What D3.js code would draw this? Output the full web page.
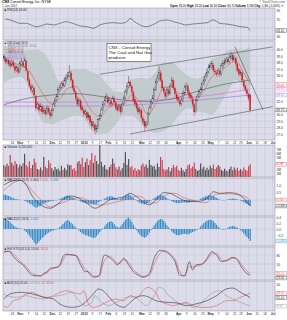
<!DOCTYPE html>
<html><head><meta charset="utf-8">
<script src="https://cdn.jsdelivr.net/npm/d3@7"></script>
<style>body{margin:0;background:#fff}svg{display:block}text{font-family:"Liberation Sans",Arial,sans-serif}</style>
</head><body><svg id="c" width="287" height="320"></svg>
<script>
// ---------- DATA ----------
const tickIdx=[5,10,15,20,25,30,35,40,45,50,55,60,65,70,75,80,86,91,96,101,109,114,119,124,129,134,139,144,148,153,158,163,168];
const tickLab=["24","Nov","7","14","21","Dec","12","19","27","2012","9","17","Feb","6","13","21","Mar","12","19","26","Apr","9","16","23","May","7","14","21","29","Jun","11","18","Jul"];
const open=[38.9,38.6,38.0,38.3,37.9,37.6,38.0,37.4,36.9,37.1,36.6,37.7,38.0,37.4,38.2,36.6,35.2,34.4,33.7,34.0,32.8,31.1,31.5,30.8,31.2,30.5,30.6,30.2,30.9,30.3,29.9,30.8,31.5,32.3,32.9,33.7,34.2,34.8,34.5,35.2,35.7,36.0,36.4,35.2,34.0,33.4,32.4,31.7,32.1,31.1,30.6,30.2,30.3,29.6,29.7,28.9,28.3,28.4,27.7,28.0,29.3,29.9,30.8,31.7,32.3,32.7,31.8,32.1,31.7,32.4,31.8,31.1,30.8,31.2,30.6,31.7,32.6,33.4,34.3,35.0,34.3,33.4,32.3,31.7,31.0,30.5,30.6,29.4,28.9,28.3,28.6,30.2,31.1,31.9,32.6,33.9,35.1,35.5,36.4,35.2,34.0,33.4,32.9,33.7,33.3,34.5,35.2,34.0,33.1,32.6,32.1,31.7,32.3,33.3,34.0,34.3,33.4,32.9,32.4,31.5,30.5,32.3,32.9,33.4,33.9,34.8,35.4,36.0,36.6,37.3,37.4,37.6,36.7,36.4,36.3,36.7,36.3,37.4,37.9,38.2,38.5,38.2,38.8,39.1,38.5,38.6,37.7,36.9,36.3,36.4,35.1,34.3,33.7,33.1,33.0];
const high=[39.3,39.0,38.8,38.6,38.3,38.5,38.4,37.8,37.6,37.5,38.2,38.6,38.3,38.8,38.5,36.9,35.6,34.8,34.6,34.3,33.1,32.0,31.8,31.7,31.5,31.2,31.0,31.4,31.3,30.7,31.0,32.0,32.6,33.2,34.2,34.6,35.1,35.2,35.7,36.2,36.6,37.6,36.8,35.5,34.4,33.8,32.8,32.6,32.4,31.5,31.0,30.9,30.6,30.3,30.0,29.3,29.0,28.7,28.4,29.5,30.2,31.1,32.0,32.7,33.3,33.0,32.6,32.5,32.9,32.8,32.1,31.5,31.7,31.5,32.0,32.9,33.9,34.9,35.9,35.4,34.6,33.7,32.7,32.0,31.4,31.2,30.9,29.8,29.3,29.0,30.4,31.4,32.3,33.0,34.2,35.4,36.2,37.5,36.8,35.5,34.4,33.8,34.2,34.1,34.8,35.8,35.5,34.3,33.5,33.0,32.5,32.6,33.6,34.5,34.9,34.7,33.8,33.3,32.8,31.8,32.5,33.2,33.9,34.3,35.1,35.8,36.4,37.0,37.7,38.0,38.3,37.9,37.1,36.8,37.2,37.0,37.9,38.3,38.6,38.9,38.9,39.2,39.6,39.4,39.1,38.9,38.0,37.2,36.9,36.6,35.4,34.6,34.0,33.4,33.2];
const low=[38.4,37.8,37.7,37.4,37.1,37.3,37.2,36.4,36.6,36.2,36.4,37.4,37.1,37.2,36.5,35.0,34.1,33.4,33.3,32.7,30.6,30.8,30.3,30.5,30.0,30.1,29.7,29.9,30.0,29.3,29.6,30.5,31.2,32.0,32.6,33.4,33.9,34.0,34.2,34.9,35.3,35.8,35.0,33.8,33.1,32.1,31.2,31.3,30.6,30.3,29.7,29.8,29.1,29.2,28.4,27.8,27.9,26.9,27.3,27.8,29.0,29.6,30.5,31.4,32.0,31.5,31.4,31.2,31.4,31.5,30.6,30.3,30.5,30.0,30.3,31.4,32.3,33.1,34.0,34.1,33.1,31.8,31.2,30.6,30.0,30.1,29.1,28.4,27.4,27.9,28.3,29.9,30.8,31.6,32.3,33.6,34.8,35.2,35.0,33.7,33.1,32.4,32.6,32.8,33.0,34.2,33.8,32.8,32.1,31.8,31.2,31.4,32.0,33.0,33.7,33.1,32.4,32.1,31.2,29.8,30.2,32.0,32.6,33.1,33.6,34.5,35.1,35.7,36.3,37.0,37.1,36.5,36.1,35.8,36.0,35.8,36.0,37.1,37.6,37.9,37.8,37.9,38.5,38.1,38.2,37.4,36.5,35.8,35.9,34.9,34.0,33.4,32.8,32.1,30.3];
const close=[38.7,38.1,38.4,37.8,37.5,38.1,37.5,36.8,37.2,36.5,37.8,38.1,37.5,38.4,36.8,35.3,34.5,33.8,34.1,33.0,31.0,31.6,30.7,31.3,30.4,30.7,30.1,31.0,30.4,29.8,30.7,31.6,32.2,32.8,33.8,34.1,34.7,34.4,35.3,35.6,35.9,36.5,35.3,34.1,33.5,32.5,31.6,32.2,31.0,30.7,30.1,30.4,29.5,29.8,28.8,28.2,28.5,27.6,27.9,29.2,29.8,30.7,31.6,32.2,32.8,31.9,32.2,31.6,32.5,31.9,31.0,30.7,31.3,30.4,31.6,32.5,33.5,34.4,35.0,34.4,33.5,32.2,31.6,31.0,30.4,30.7,29.5,28.8,28.2,28.5,30.1,31.0,31.9,32.5,33.8,35.0,35.6,36.5,35.3,34.1,33.5,32.8,33.8,33.2,34.4,35.3,34.1,33.2,32.5,32.2,31.6,32.2,33.2,34.1,34.4,33.5,32.8,32.5,31.6,30.4,32.2,32.8,33.5,33.8,34.7,35.3,35.9,36.5,37.2,37.5,37.8,36.8,36.5,36.2,36.8,36.2,37.5,37.8,38.1,38.4,38.1,38.7,39.0,38.4,38.7,37.8,36.8,36.2,36.5,35.3,34.4,33.8,33.2,32.5,30.7];
const volume=[3.0,2.6,3.3,2.8,5.5,3.6,2.9,4.0,3.3,2.4,3.1,2.7,3.5,5.8,3.0,2.5,3.9,2.2,3.0,4.6,3.6,2.0,1.8,2.4,1.7,5.0,2.6,2.2,4.2,3.4,2.2,1.6,2.5,1.9,2.1,1.5,2.8,1.8,2.3,1.7,3.2,2.9,3.0,1.9,2.2,1.6,3.6,4.0,3.2,4.8,2.5,3.7,4.6,3.0,4.2,6.0,3.5,5.4,4.0,3.2,8.5,3.8,2.6,3.0,2.0,1.8,2.5,3.1,4.6,3.4,2.4,1.9,2.6,1.6,2.2,3.5,6.2,3.0,4.5,2.4,2.7,1.8,2.2,1.5,2.0,1.7,2.9,3.4,2.6,3.1,2.3,4.3,3.0,2.6,2.8,1.9,3.4,2.5,5.0,4.2,2.0,1.6,1.9,2.5,1.4,2.2,3.0,2.4,2.8,1.8,1.5,2.3,1.7,1.3,2.0,2.9,3.2,2.2,2.6,3.6,2.0,1.5,1.8,3.4,2.1,2.6,1.7,2.3,1.8,2.8,2.2,3.1,2.0,2.4,3.0,2.6,1.8,1.5,2.1,1.6,1.4,2.0,2.6,1.7,2.4,1.8,2.3,1.6,2.0,1.5,2.4,1.8,1.6,2.7,3.2];
const macdHist=[0.36,0.34,0.31,0.27,0.22,0.17,0.12,0.08,0.05,0.03,0.02,0.01,-0.01,-0.05,-0.10,-0.16,-0.22,-0.29,-0.36,-0.45,-0.52,-0.48,-0.42,-0.36,-0.30,-0.25,-0.20,-0.16,-0.12,-0.09,-0.06,-0.05,-0.03,-0.02,0.02,0.06,0.11,0.17,0.22,0.27,0.30,0.26,0.21,0.16,0.10,0.05,0.01,-0.05,-0.10,-0.15,-0.18,-0.20,-0.22,-0.24,-0.26,-0.28,-0.30,-0.29,-0.24,-0.17,-0.10,-0.04,0.02,0.09,0.16,0.21,0.24,0.26,0.22,0.16,0.10,0.06,0.05,0.09,0.16,0.23,0.30,0.35,0.38,0.32,0.24,0.14,0.05,-0.04,-0.12,-0.19,-0.24,-0.27,-0.29,-0.26,-0.20,-0.12,-0.04,0.04,0.12,0.19,0.26,0.31,0.33,0.32,0.27,0.20,0.12,0.05,-0.02,-0.08,-0.13,-0.17,-0.20,-0.21,-0.20,-0.18,-0.17,-0.16,-0.17,-0.18,-0.16,-0.13,-0.10,-0.08,-0.05,-0.02,0.02,0.08,0.14,0.19,0.24,0.28,0.30,0.31,0.30,0.26,0.20,0.14,0.08,0.03,-0.01,-0.03,-0.02,0.01,0.04,0.07,0.09,0.10,0.09,0.07,0.04,0.01,-0.04,-0.09,-0.15,-0.21,-0.27,-0.33,-0.40];
// overlays (sampled days)
const ovIdx=[0,5,10,15,20,25,30,35,40,45,50,55,60,65,70,75,80,85,90,95,100,105,110,115,120,125,130,135,140,145,150,154];
const ema=[38.5,38.0,37.6,37.0,35.0,33.0,31.6,32.4,34.0,34.3,32.5,30.5,29.7,31.0,31.5,31.6,33.0,32.0,30.0,31.7,34.2,34.2,33.2,33.4,32.3,33.6,35.8,36.6,37.6,38.2,36.4,34.6];
const bbUpper=[40.5,40.0,39.8,39.9,40.0,39.5,37.5,35.0,36.5,37.0,37.0,36.5,36.0,34.5,33.5,33.5,35.3,35.6,35.5,36.5,38.0,38.0,37.0,36.0,35.5,36.0,38.5,39.0,39.8,40.0,40.0,40.5];
const bbLower=[35.0,35.5,35.8,34.5,31.0,28.8,28.5,29.0,29.5,29.8,29.5,27.5,27.0,27.2,28.5,29.8,29.8,28.8,27.6,27.2,27.5,28.5,30.0,31.0,30.5,30.3,30.0,31.5,33.5,35.3,34.0,31.5];
const ma50Idx=[0,15,30,45,60,75,90,105,120,135,154];
const ma50=[31.5,32.5,33.0,33.2,32.8,32.2,32.0,32.4,33.5,34.5,35.3];
const ma200Idx=[0,50,90,120,154];
const ma200=[31.9,31.9,32.2,32.7,33.9];
const ma150Idx=[0,60,90,154];
const ma150=[31.3,31.3,31.6,33.0];
// trend lines [startIdx, startPrice, endIdx, endPrice]
const upperChannel=[60,36.2,168,40.4];
const lowerChannel=[79,27.0,168,31.2];
const downTrend=[144.5,40.4,162,30.7];
// RSI
const rsiIdx=[1,4,7,10,14,17,20,23,27,31,35,39,43,48,52,56,60,64,69,73,77,79,81,85,89,94,98,102,106,110,114,118,123,127,131,135,139,143,148,152,154];
const rsi=[70,67.7,63.9,60.2,60.2,56.4,52.5,54.1,58.6,56.4,60.2,63.9,60.2,54.1,52.5,48.9,56.4,60.2,61.6,60.2,63.9,71.6,66.1,56.4,52.5,58.6,66.1,67.7,63.9,60.2,56.4,58.6,60.2,61.6,67.7,60.2,58.6,56.4,52.5,51.1,43.4];
// MACD
const macdIdx=[0,4,10,14,18,23,29,33,39,42,47,52,57,60,66,75,79,83,87,91,95,100,104,108,112,117,123,127,131,135,141,145,150,154];
const macdLine=[1.0,1.22,1.33,1.0,0.22,-0.33,-0.55,-0.33,0.18,0.27,0.11,-0.22,-0.55,-0.44,0,0.22,0.44,0.22,-0.11,-0.33,0,0.49,0.44,0.22,0,-0.11,-0.07,0.11,0.55,0.44,0.49,0.44,0.11,-0.4];
const macdSignal=[0.64,1.0,1.31,1.10,0.58,0.03,-0.46,-0.31,-0.09,0.06,0.16,0.0,-0.26,-0.34,-0.24,-0.01,0.12,0.26,0.16,-0.21,-0.19,0.22,0.46,0.42,0.17,0.02,-0.15,-0.17,0.29,0.41,0.42,0.37,0.26,0.0];
// Stochastics
const stoIdx=[0,3,6,9,12,15,18,23,25,27,29,32,35,37,39,42,45,48,51,52,54,57,60,61,63,66,69,71,73,75,78,81,84,87,91,94,98,101,104,107,110,113,116,118,120,124,127,130,133,136,139,143,145,149,152,154];
const stoK=[91,93,75,58,47,27,12,10,19,24,36,38,47,75,83,80,78,47,24,26,14,6,15,47,80,72,58,47,58,69,47,24,13,6,19,69,96,91,80,58,13,10,58,30,47,50,69,91,80,58,62,72,69,36,18,13];
const stoD=[88,92,84,66,52,35,18,11,15,20,30,36,42,62,78,82,79,58,32,28,20,9,10,30,62,76,64,52,54,64,55,32,18,9,12,50,88,94,84,66,25,11,42,40,42,49,63,84,85,65,60,69,70,45,26,18];
// ADX / DMI
const adxIdx=[0,4,10,18,25,31,35,39,43,48,52,56,59,62,66,70,75,79,83,87,91,95,102,108,114,120,127,133,139,143,148,154];
const adx=[22.2,31.5,34.6,31.5,25.3,22.2,13,8,6.8,9.9,19.1,31.5,40.7,37.6,25.3,13,6.8,16,25.3,28.4,25.3,19.1,16,15,9.9,13,19.1,28.4,40.7,42.6,34.6,25];
const pdiIdx=[0,2,8,14,18,25,29,34,39,42,47,51,55,57,60,66,70,73,77,81,85,89,94,97,100,102,106,110,114,118,123,127,131,135,139,143,148,154];
const pdi=[31.5,28.4,25.3,28.4,25.3,22.2,25.3,28.4,31.5,34.6,19.1,9.9,16,28.4,19.1,9.9,16,19.1,25.3,26.5,19.1,9.9,28.4,43.8,40.7,31.5,22.2,13,14,6.8,13,25.3,34.6,37.6,28.4,22.2,16,9];
const mdiIdx=[0,2,6,10,14,18,20,27,31,35,39,43,48,50,53,56,60,66,70,75,79,83,87,90,94,98,102,106,110,114,118,123,127,131,135,139,143,148,154];
const mdi=[9.9,6.8,19.1,22.2,31.5,34.6,31.5,25.3,28.4,34.6,37.6,34.6,31.5,37.6,13,6.8,9.9,19.1,22.2,19.1,28.4,25.3,37.6,43.8,37.6,19.1,13,9.9,13,16,9.9,6.8,6.8,8,13,19.1,19.1,25.3,33];
// axis ticks
const priceTicks=[27,28,29,30,31,32,33,34,35,36,37,38,39,40];
const rsiTicks=[90,70,50,30];
const volTicks=[1,2,3,4,5,6,7];
const macdTicks=[1.0,0.5,-0.5];
const histTicks=[0.4,0.2,0,-0.2,-0.4];
const stoTicks=[80,50,20];
const adxTicks=[50,40,30,20,10];

// ---------- DRAW ----------
const svg=d3.select("#c");
const BG="#dcdcea",GRID="#c6c6d8",BORDER="#8a8a9a",RED="#d2202f",BLK="#2a2a2a",BLUE="#3b8fc9",PINK="#e05a5a";
const L=3,R=275,N=170,GAP=4.4;
const x=d3.scaleLinear().domain([-0.5,N-0.5]).range([L,R]);
const days=d3.range(close.length);
const defs=svg.append("defs");
let clipN=0;
function panel(top,bottom){
  const g=svg.append("g");
  g.append("rect").attr("x",L).attr("y",top).attr("width",R-L).attr("height",bottom-top).attr("fill",BG);
  g.append("g").selectAll("line").data(tickIdx).join("line")
    .attr("x1",d=>x(d)).attr("x2",d=>x(d)).attr("y1",top).attr("y2",bottom)
    .attr("stroke",GRID).attr("stroke-width",0.5);
  const id="cp"+(clipN++);
  defs.append("clipPath").attr("id",id).append("rect").attr("x",L).attr("y",top).attr("width",R-L).attr("height",bottom-top);
  const inner=svg.append("g").attr("clip-path","url(#"+id+")");
  return {g,inner,top,bottom,finish(){svg.append("rect").attr("x",L).attr("y",top).attr("width",R-L).attr("height",bottom-top).attr("fill","none").attr("stroke",BORDER).attr("stroke-width",0.5);}};
}
function hlines(p,y,vals,dash){
  p.g.append("g").selectAll("line").data(vals).join("line").attr("x1",L).attr("x2",R)
   .attr("y1",d=>y(d)).attr("y2",d=>y(d)).attr("stroke",dash?"#9a9aaa":GRID).attr("stroke-width",0.5)
   .attr("stroke-dasharray",dash?"1.5,1.5":null);
}
// right axis with value boxes; ticks near boxes are dropped, boxes spread apart
function rightSide(y,vals,fmt,boxes,top,bottom){
  const bs=boxes.map(b=>({...b,yy:y(b.v)})).sort((a,b)=>a.yy-b.yy);
  bs.forEach(b=>{b.yy=Math.max(top+2,Math.min(bottom-2,b.yy));});
  for(let k=1;k<bs.length;k++) if(bs[k].yy-bs[k-1].yy<GAP) bs[k].yy=bs[k-1].yy+GAP;
  const keep=vals.filter(t=>bs.every(b=>Math.abs(y(t)-b.yy)>=GAP));
  const a=svg.append("g").attr("transform","translate("+(R+1.5)+",0)")
    .call(d3.axisRight(y).tickValues(keep).tickSize(0).tickPadding(0).tickFormat(fmt));
  a.select(".domain").remove();
  a.selectAll("text").attr("font-size",3.3).attr("fill","#333").attr("font-family","Liberation Sans, Arial");
  bs.forEach(b=>{
    svg.append("rect").attr("x",R+1).attr("y",b.yy-1.9).attr("width",10.5).attr("height",3.8).attr("fill","#fff").attr("stroke",b.col).attr("stroke-width",0.4);
    svg.append("text").attr("x",R+1.7).attr("y",b.yy+1.1).attr("font-size",3.0).attr("fill",b.col).text(b.txt);
  });
}
function lineOf(idx,vals,y){
  return d3.line().x((d,i)=>x(idx[i])).y(d=>y(d)).curve(d3.curveMonotoneX)(vals);
}
function legend(yy,parts,fs){
  const t=svg.append("text").attr("x",L+1.5).attr("y",yy).attr("font-size",fs||3.1);
  parts.forEach(p=>t.append("tspan").attr("fill",p[1]).text(p[0]));
}
function dateAxis(yy){
  const a=svg.append("g").attr("transform","translate(0,"+yy+")")
    .call(d3.axisBottom(x).tickValues(tickIdx).tickSize(0).tickPadding(0).tickFormat((d,i)=>tickLab[i]));
  a.select(".domain").remove();
  a.selectAll("text").attr("font-size",3.2).attr("fill","#333").attr("font-family","Liberation Sans, Arial")
   .attr("font-weight",(d,i)=>/^[A-Z]|^20/.test(tickLab[i])?"bold":null);
}

// header
const h1=svg.append("text").attr("x",2).attr("y",3.4).attr("font-size",3.5);
h1.append("tspan").attr("font-weight","bold").text("CNX");
h1.append("tspan").text(" Consol Energy, Inc.  NYSE");
svg.append("text").attr("x",2).attr("y",7.0).attr("font-size",3.0).attr("fill","#333").text("1-Jun-2012");
svg.append("text").attr("x",285).attr("y",3.4).attr("font-size",3.0).attr("text-anchor","end").attr("fill","#555").text("© StockCharts.com");
const h2=svg.append("text").attr("x",284).attr("y",7.0).attr("font-size",3.0).attr("text-anchor","end");
[["Open ",1],[open[open.length-1].toFixed(2)+"  ",0],["High ",1],[high[high.length-1].toFixed(2)+"  ",0],["Low ",1],[low[low.length-1].toFixed(2)+"  ",0],["Close ",1],[close[close.length-1].toFixed(2)+"  ",0],["Volume ",1],[volume[volume.length-1].toFixed(1)+"M  ",0],["Chg ",1],["-1.80 (-5.54%) ",0]].forEach(p=>h2.append("tspan").attr("font-weight",p[1]?"bold":null).text(p[0]));
h2.append("tspan").attr("fill",RED).text("▼");

// RSI
const yR=d3.scaleLinear().domain([70,30]).range([19,36.6]);
const pR=panel(8,40);
hlines(pR,yR,[70,30],false); hlines(pR,yR,[50],true);
pR.inner.append("path").attr("d",lineOf(rsiIdx,rsi,yR)).attr("fill","none").attr("stroke","#444").attr("stroke-width",0.6);
pR.finish();
rightSide(yR,rsiTicks,d3.format("d"),[{v:rsi[rsi.length-1],txt:rsi[rsi.length-1].toFixed(2),col:BLK}],8,40);
legend(11,[["■ ",BLK],["RSI(14) "+rsi[rsi.length-1].toFixed(2),BLK]]);

// PRICE
const yP=d3.scaleLinear().domain([41,26]).range([43,140.5]);
const pP=panel(41,140);
hlines(pP,yP,priceTicks,false);
const area=d3.area().x((d,i)=>x(ovIdx[i])).y0((d,i)=>yP(bbLower[i])).y1(d=>yP(d)).curve(d3.curveMonotoneX);
pP.inner.append("path").attr("d",area(bbUpper)).attr("fill","#bcc7c7").attr("opacity",0.8);
pP.inner.append("path").attr("d",lineOf(ma150Idx,ma150,yP)).attr("fill","none").attr("stroke","#a080e0").attr("stroke-width",0.7);
pP.inner.append("path").attr("d",lineOf(ma200Idx,ma200,yP)).attr("fill","none").attr("stroke","#e070e0").attr("stroke-width",0.7);
pP.inner.append("path").attr("d",lineOf(ma50Idx,ma50,yP)).attr("fill","none").attr("stroke","#555").attr("stroke-width",0.6);
pP.inner.append("path").attr("d",lineOf(ovIdx,ema,yP)).attr("fill","none").attr("stroke",PINK).attr("stroke-width",0.6);
[upperChannel,lowerChannel,downTrend].forEach(t=>{
  pP.inner.append("line").attr("x1",x(t[0])).attr("y1",yP(t[1])).attr("x2",x(t[2])).attr("y2",yP(t[3])).attr("stroke","#555").attr("stroke-width",0.6);
});
const cCol=i=>(i>0&&close[i]<close[i-1])?RED:BLK;
pP.inner.append("g").selectAll("line").data(days).join("line")
  .attr("x1",i=>x(i)).attr("x2",i=>x(i)).attr("y1",i=>yP(high[i])).attr("y2",i=>yP(low[i]))
  .attr("stroke",cCol).attr("stroke-width",0.45);
pP.inner.append("g").selectAll("rect").data(days).join("rect")
  .attr("x",i=>x(i)-0.6).attr("width",1.2)
  .attr("y",i=>yP(Math.max(open[i],close[i]))).attr("height",i=>Math.max(0.5,Math.abs(yP(open[i])-yP(close[i]))))
  .attr("fill",i=>close[i]<open[i]?cCol(i):BG).attr("stroke",cCol).attr("stroke-width",0.3);
pP.finish();
rightSide(yP,priceTicks,d3.format(".1f"),[
  {v:ema[ema.length-1],txt:ema[ema.length-1].toFixed(2),col:PINK},
  {v:ma200[ma200.length-1],txt:ma200[ma200.length-1].toFixed(2),col:"#e070e0"},
  {v:ma150[ma150.length-1],txt:ma150[ma150.length-1].toFixed(2),col:"#a080e0"},
  {v:close[close.length-1],txt:close[close.length-1].toFixed(2),col:BLK}],41,140);
const lf=2.6,ls=2.9;
legend(44.3,[["■ ",BLK],["CNX (Daily) "+close[close.length-1].toFixed(2),BLK]],lf);
legend(44.3+ls,[["— BB(20,2.0) "+bbUpper[31].toFixed(2)+" - "+bbLower[31].toFixed(2),"#778"]],lf);
legend(44.3+2*ls,[["— EMA(8) "+ema[31].toFixed(2),PINK]],lf);
legend(44.3+3*ls,[["— MA(50) "+ma50[ma50.length-1].toFixed(2),"#555"]],lf);
legend(44.3+4*ls,[["— MA(200) "+ma200[4].toFixed(2),"#e070e0"]],lf);
legend(44.3+5*ls,[["— MA(150) "+ma150[3].toFixed(2),"#a080e0"]],lf);
// annotation box
const bx=svg.append("g");
bx.append("rect").attr("x",107).attr("y",43.5).attr("width",44).attr("height",18).attr("fill","#fff").attr("stroke","#222").attr("stroke-width",0.5);
["CNX - Consol Energy","The Coal and Nat Gas","producer"].forEach((s,i)=>bx.append("text").attr("x",108.5).attr("y",48.6+i*5.3).attr("font-size",4.4).attr("fill","#111").text(s));

dateAxis(141.3);

// VOLUME
const yV=d3.scaleLinear().domain([0,8]).range([177,145]);
const pV=panel(145,177);
pV.inner.append("g").selectAll("rect").data(days).join("rect")
  .attr("x",i=>x(i)-0.6).attr("width",1.2).attr("y",i=>yV(volume[i])).attr("height",i=>yV(0)-yV(volume[i]))
  .attr("fill",i=>cCol(i)===RED?"#d04455":"#555");
pV.finish();
rightSide(yV,volTicks,d=>d+"M",[{v:volume[volume.length-1],txt:"3.2M",col:"#d04455"}],145,177);
legend(148.4,[["■ ",BLK],["Volume 3,200,000",BLK]]);

// MACD
const yM=d3.scaleLinear().domain([0,1]).range([200,185]);
const pM=panel(178,216);
hlines(pM,yM,[0],false);
pM.inner.append("g").selectAll("rect").data(days).join("rect")
  .attr("x",i=>x(i)-0.6).attr("width",1.2)
  .attr("y",i=>Math.min(yM(0),yM(macdHist[i]))).attr("height",i=>Math.abs(yM(macdHist[i])-yM(0)))
  .attr("fill",BLUE);
pM.inner.append("path").attr("d",lineOf(macdIdx,macdSignal,yM)).attr("fill","none").attr("stroke",PINK).attr("stroke-width",0.6);
pM.inner.append("path").attr("d",lineOf(macdIdx,macdLine,yM)).attr("fill","none").attr("stroke","#333").attr("stroke-width",0.6);
pM.finish();
rightSide(yM,macdTicks,d3.format(".1f"),[
  {v:macdSignal[33],txt:macdSignal[33].toFixed(3),col:PINK},
  {v:macdLine[33],txt:macdLine[33].toFixed(3),col:BLK}],178,216);
legend(181.4,[["■ ",BLK],["MACD(12,26,9) ",BLK],[macdLine[33].toFixed(3)+", ",BLK],[macdSignal[33].toFixed(3)+", ",PINK],[macdHist[154].toFixed(3),BLUE]]);

// HISTOGRAM
const yH=d3.scaleLinear().domain([0,0.2]).range([229,223]);
const pH=panel(217,246);
hlines(pH,yH,[0],false);
pH.inner.append("g").selectAll("rect").data(days).join("rect")
  .attr("x",i=>x(i)-0.6).attr("width",1.2)
  .attr("y",i=>Math.min(yH(0),yH(macdHist[i]))).attr("height",i=>Math.abs(yH(macdHist[i])-yH(0)))
  .attr("fill",BLUE);
pH.finish();
rightSide(yH,histTicks,d3.format(".1f"),[{v:macdHist[154],txt:macdHist[154].toFixed(3),col:BLUE}],217,246);
legend(220.4,[["■ ",BLK],["MACD(12,26,9) ",BLK],[macdHist[154].toFixed(3),BLUE]]);

// STOCHASTICS
const yS=d3.scaleLinear().domain([0,100]).range([279,249]);
const pS=panel(247,280);
hlines(pS,yS,[80,20],false); hlines(pS,yS,[50],true);
pS.inner.append("path").attr("d",lineOf(stoIdx,stoD,yS)).attr("fill","none").attr("stroke",PINK).attr("stroke-width",0.6);
pS.inner.append("path").attr("d",lineOf(stoIdx,stoK,yS)).attr("fill","none").attr("stroke","#333").attr("stroke-width",0.6);
pS.finish();
rightSide(yS,stoTicks,d3.format("d"),[
  {v:stoD[55],txt:stoD[55].toFixed(2),col:PINK},
  {v:stoK[55],txt:stoK[55].toFixed(2),col:BLK}],247,280);
legend(250.4,[["■ ",BLK],["Full STO(14,3,3) ",BLK],[stoK[55].toFixed(2)+", ",BLK],[stoD[55].toFixed(2),PINK]]);

// ADX
const yA=d3.scaleLinear().domain([0,50]).range([311,284]);
const pA=panel(281,311);
pA.inner.append("path").attr("d",lineOf(pdiIdx,pdi,yA)).attr("fill","none").attr("stroke","#999").attr("stroke-width",0.6);
pA.inner.append("path").attr("d",lineOf(mdiIdx,mdi,yA)).attr("fill","none").attr("stroke",PINK).attr("stroke-width",0.6);
pA.inner.append("path").attr("d",lineOf(adxIdx,adx,yA)).attr("fill","none").attr("stroke","#333").attr("stroke-width",0.6);
pA.finish();
rightSide(yA,adxTicks,d3.format("d"),[
  {v:mdi[mdi.length-1],txt:mdi[mdi.length-1].toFixed(2),col:PINK},
  {v:adx[adx.length-1],txt:adx[adx.length-1].toFixed(2),col:BLK},
  {v:pdi[pdi.length-1],txt:pdi[pdi.length-1].toFixed(2),col:"#999"}],281,311);
legend(284.4,[["■ ",BLK],["ADX(14) "+adx[adx.length-1].toFixed(2)+" ",BLK],["+DI "+pdi[pdi.length-1].toFixed(2)+" ","#999"],["-DI "+mdi[mdi.length-1].toFixed(2),PINK]]);

dateAxis(312.6);
</script></body></html>
